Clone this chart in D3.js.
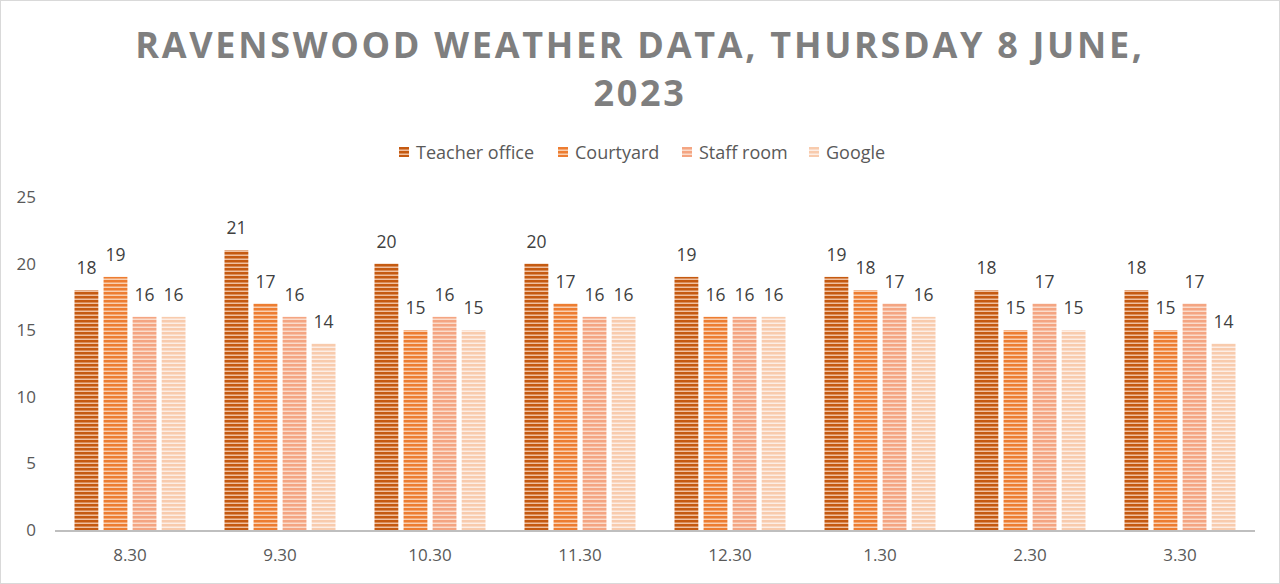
<!DOCTYPE html>
<html>
<head>
<meta charset="utf-8">
<script src="https://cdn.jsdelivr.net/npm/d3@7"></script>
<style>
  body { margin: 0; background: #fff; }
  svg text { font-family: "Open Sans", "Noto Sans", sans-serif; }
</style>
</head>
<body>
<svg id="chart" width="1280" height="584"></svg>
<script>
// data
var times = ['8.30', '9.30', '10.30', '11.30', '12.30', '1.30', '2.30', '3.30'];
var seriesNames = ['Teacher office', 'Courtyard', 'Staff room', 'Google'];
var teacherOffice = [18, 21, 20, 20, 19, 19, 18, 18];
var courtyard = [19, 17, 15, 17, 16, 18, 15, 15];
var staffRoom = [16, 16, 16, 16, 16, 17, 17, 17];
var google = [16, 14, 15, 16, 16, 16, 15, 14];
var yTicks = [0, 5, 10, 15, 20, 25];

var allValues = [teacherOffice, courtyard, staffRoom, google];
var colors = ['#c55a11', '#ed7d31', '#f4a582', '#f8cbad'];
var stripes = ['#f0c0a0', '#f9cfb0', '#fbdccb', '#fdeee5'];

var svg = d3.select('#chart');
var width = 1280, height = 584;
var margin = {top: 197, right: 25, bottom: 54, left: 55};

// outer border
svg.append('rect')
    .attr('x', 0.5).attr('y', 0.5)
    .attr('width', width - 1).attr('height', height - 1)
    .attr('fill', '#fff')
    .attr('stroke', '#d9d9d9');

// striped fills
var defs = svg.append('defs');
colors.forEach(function(c, i) {
    var p = defs.append('pattern')
        .attr('id', 'stripe' + i)
        .attr('patternUnits', 'userSpaceOnUse')
        .attr('width', 8).attr('height', 4);
    p.append('rect').attr('width', 8).attr('height', 4).attr('fill', c);
    p.append('rect').attr('y', 2.5).attr('width', 8).attr('height', 1.5).attr('fill', stripes[i]);
});

var x0 = d3.scaleBand()
    .domain(times)
    .range([margin.left, width - margin.right])
    .paddingInner(0.26)
    .paddingOuter(0.13);

var x1 = d3.scaleBand()
    .domain(seriesNames)
    .range([0, x0.bandwidth()])
    .paddingInner(0.18);

var y = d3.scaleLinear()
    .domain([0, 25])
    .range([height - margin.bottom, margin.top]);

// title
var title = svg.append('text')
    .attr('text-anchor', 'middle')
    .attr('fill', '#7f7f7f')
    .attr('font-size', 36)
    .attr('font-weight', 700)
    .attr('letter-spacing', 2.7);
title.append('tspan').attr('x', 640).attr('y', 58).text('RAVENSWOOD WEATHER DATA, THURSDAY 8 JUNE,');
title.append('tspan').attr('x', 640).attr('y', 106).text('2023');

// legend
var legendX = [399, 558, 682, 809];
var legend = svg.selectAll('.legend')
    .data(seriesNames)
    .enter().append('g')
    .attr('class', 'legend')
    .attr('transform', function(d, i) { return 'translate(' + legendX[i] + ',147)'; });
legend.append('rect')
    .attr('width', 10).attr('height', 10)
    .attr('fill', function(d, i) { return 'url(#stripe' + i + ')'; });
legend.append('text')
    .attr('x', 17).attr('y', 12)
    .attr('font-size', 18)
    .attr('fill', '#595959')
    .text(function(d) { return d; });

// y axis labels
svg.selectAll('.ytick')
    .data(yTicks)
    .enter().append('text')
    .attr('class', 'ytick')
    .attr('x', 36)
    .attr('y', function(d) { return y(d) + 6; })
    .attr('text-anchor', 'end')
    .attr('font-size', 17)
    .attr('fill', '#595959')
    .text(function(d) { return d; });

// bars
var groups = svg.selectAll('.group')
    .data(times)
    .enter().append('g')
    .attr('class', 'group')
    .attr('transform', function(d) { return 'translate(' + x0(d) + ',0)'; });

groups.each(function(t, ti) {
    var g = d3.select(this);
    seriesNames.forEach(function(s, si) {
        var v = allValues[si][ti];
        g.append('rect')
            .attr('x', x1(s))
            .attr('y', y(v))
            .attr('width', x1.bandwidth())
            .attr('height', y(0) - y(v))
            .attr('fill', 'url(#stripe' + si + ')');
        g.append('text')
            .attr('x', x1(s) + x1.bandwidth() / 2)
            .attr('y', y(v) - 16)
            .attr('text-anchor', 'middle')
            .attr('font-size', 17.5)
            .attr('fill', '#404040')
            .text(v);
    });
});

// x axis
svg.append('line')
    .attr('x1', margin.left).attr('x2', width - margin.right)
    .attr('y1', y(0) + 1).attr('y2', y(0) + 1)
    .attr('stroke', '#bfbfbf')
    .attr('stroke-width', 2);

svg.selectAll('.xtick')
    .data(times)
    .enter().append('text')
    .attr('class', 'xtick')
    .attr('x', function(d) { return x0(d) + x0.bandwidth() / 2; })
    .attr('y', 561)
    .attr('text-anchor', 'middle')
    .attr('font-size', 17)
    .attr('fill', '#595959')
    .text(function(d) { return d; });
</script>
</body>
</html>
